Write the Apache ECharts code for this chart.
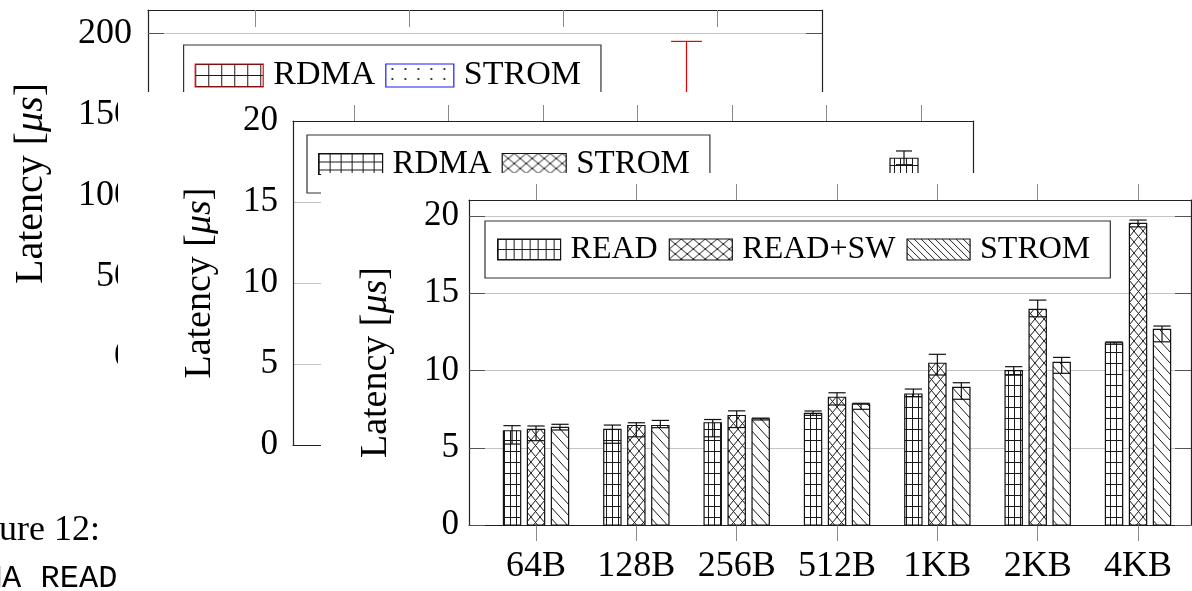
<!DOCTYPE html>
<html><head><meta charset="utf-8">
<script src="https://cdn.jsdelivr.net/npm/echarts@6/dist/echarts.min.js"></script>
<style>html,body{margin:0;padding:0;background:#fff}#c{width:1192px;height:591px}</style>
</head><body><div id="c"></div>
<script>
// ---------------- data ----------------
const sizes = ['64B', '128B', '256B', '512B', '1KB', '2KB', '4KB'];
// front chart: bar value, lower whisker, upper whisker
const readVal   = [6.10, 6.19, 6.62, 7.23, 8.48, 9.99, 11.80];
const readLow   = [5.24, 5.29, 5.71, 7.10, 8.30, 9.70, 11.70];
const readHigh  = [6.43, 6.47, 6.83, 7.38, 8.80, 10.25, 11.85];
const swVal     = [6.19, 6.44, 7.09, 8.27, 10.47, 13.96, 19.53];
const swLow     = [5.46, 5.71, 6.31, 7.77, 9.71, 13.48, 19.30];
const swHigh    = [6.41, 6.62, 7.39, 8.56, 11.05, 14.56, 19.74];
const stromVal  = [6.32, 6.44, 6.88, 7.83, 8.91, 10.53, 12.67];
const stromLow  = [6.15, 6.30, 6.80, 7.49, 8.14, 9.82, 11.86];
const stromHigh = [6.52, 6.77, 6.92, 7.88, 9.21, 10.85, 12.88];
const frontTicks = [0, 5, 10, 15, 20];
// middle chart (mostly hidden behind the front chart)
const midRdmaVal  = [null, null, null, null, null, null, 17.7];
const midRdmaLow  = [null, null, null, null, null, null, 17.3];
const midRdmaHigh = [null, null, null, null, null, null, 18.15];
const midStromVal = [null, null, null, null, null, null, null];
const midTicks = [0, 5, 10, 15, 20];
// back chart (only one whisker visible)
const backCats = [0, 1, 2, 3];
const backRdmaVal  = [null, null, null, 155];
const backRdmaLow  = [null, null, null, 120];
const backRdmaHigh = [null, null, null, 195];
const backStromVal = [null, null, null, null];
const backTicks = [0, 50, 100, 150, 200];

// ---------------- patterns ----------------
function mk(w, h, draw, bg) {
  const c = document.createElement('canvas'); c.width = w; c.height = h;
  const g = c.getContext('2d'); g.fillStyle = bg || '#fff'; g.fillRect(0, 0, w, h);
  g.strokeStyle = '#1a1a1a'; g.fillStyle = '#1a1a1a'; g.lineWidth = 1; draw(g, w, h);
  return { image: c, repeat: 'repeat' };
}
const gridP = (w, h) => mk(w, h, (g) => { g.beginPath(); g.moveTo(0.5, 0); g.lineTo(0.5, h); g.moveTo(0, 0.5); g.lineTo(w, 0.5); g.stroke(); });
const crossP = (w, h) => mk(w, h, (g) => { g.beginPath(); g.moveTo(0, 0); g.lineTo(w, h); g.moveTo(w, 0); g.lineTo(0, h); g.stroke(); });
const nwP = (w, h) => mk(w, h, (g) => { g.beginPath(); g.moveTo(-w, -h); g.lineTo(2 * w, 2 * h); g.moveTo(-w, 0); g.lineTo(w, 2 * h); g.moveTo(0, -h); g.lineTo(2 * w, h); g.stroke(); });
const dotP = (w, h) => mk(w, h, (g) => { g.beginPath(); g.arc(w / 2, h / 2, 1.1, 0, Math.PI * 2); g.fill(); });

const patGrid = gridP(6, 11), patCross = crossP(9, 11), patNW = nwP(10, 11), patDot = dotP(13, 10);
const legGrid = gridP(8, 10), legCross = crossP(12, 10), legNW = nwP(7, 7);
const legGrid2 = gridP(11, 8), legCross2 = crossP(12, 10);
const legGrid1 = gridP(13, 11), legDot1 = dotP(13, 10);

const SERIF = '"Liberation Serif", "Times New Roman", serif';

// ---------------- helpers ----------------
function bars(name, ax, vals, off, w, fill, stroke, z) {
  return {
    type: 'custom', name, xAxisIndex: ax, yAxisIndex: ax, z, clip: false,
    itemStyle: { color: fill, borderColor: stroke },
    encode: { x: 0, y: 1 },
    data: vals.map((v, i) => [i, v]).filter(d => d[1] != null),
    renderItem(params, api) {
      const i = api.value(0), v = api.value(1);
      const t = api.coord([i + off, v]), b = api.coord([i + off, 0]);
      const pw = api.size([w, 0])[0];
      return { type: 'rect', shape: { x: t[0] - pw / 2, y: t[1], width: pw, height: b[1] - t[1] },
        style: { fill, stroke, lineWidth: 1.2 } };
    }
  };
}
function whiskers(name, ax, low, high, off, capW, color, z) {
  return {
    type: 'custom', name, xAxisIndex: ax, yAxisIndex: ax, z, clip: false,
    encode: { x: 0, y: [1, 2] },
    data: low.map((l, i) => [i, l, high[i]]).filter(d => d[1] != null),
    renderItem(params, api) {
      const i = api.value(0);
      const pl = api.coord([i + off, api.value(1)]), ph = api.coord([i + off, api.value(2)]);
      const hw = api.size([capW, 0])[0] / 2, x = pl[0];
      const st = { stroke: color, lineWidth: 1.2 };
      return { type: 'group', children: [
        { type: 'line', shape: { x1: x, y1: pl[1], x2: x, y2: ph[1] }, style: st },
        { type: 'line', shape: { x1: x - hw, y1: ph[1], x2: x + hw, y2: ph[1] }, style: st },
        { type: 'line', shape: { x1: x - hw, y1: pl[1], x2: x + hw, y2: pl[1] }, style: st }
      ] };
    }
  };
}
const fmt = (ticks) => (v) => ticks.indexOf(v) >= 0 ? String(v) : '';
const frameLine = { show: true, onZero: false, lineStyle: { color: '#222', width: 1.2 } };
const tickStyle = { color: '#8a8a8a', width: 1 };
const gridLine = { show: true, lineStyle: { color: '#c4c4c4', width: 1 } };

function xPair(grid, min, max, n, z, bottomOpt, topOpt) {
  const cv = Array.from({ length: n }, (_, i) => i);
  return [
    Object.assign({ type: 'value', gridIndex: grid, position: 'bottom', min, max, z,
      axisLine: frameLine, splitLine: { show: false } }, bottomOpt(cv)),
    Object.assign({ type: 'value', gridIndex: grid, position: 'top', min, max, z,
      axisLine: frameLine, splitLine: { show: false }, axisLabel: { show: false } }, topOpt(cv))
  ];
}
function yPair(grid, max, ticks, z, leftTick, rightTick, nameGap, nameSize, labelSize, labelMargin) {
  return [
    { type: 'value', gridIndex: grid, position: 'left', min: 0, max, interval: ticks[1], z,
      axisLine: frameLine, splitLine: gridLine, axisTick: leftTick,
      axisLabel: { formatter: fmt(ticks), fontFamily: SERIF, fontSize: labelSize, color: '#000', margin: labelMargin },
      name: 'Latency [{i|μs}]', nameLocation: 'middle', nameRotate: 90, nameGap,
      nameTextStyle: { fontFamily: SERIF, fontSize: nameSize, color: '#000',
        rich: { i: { fontFamily: SERIF, fontSize: nameSize, fontStyle: 'italic', color: '#000' } } } },
    { type: 'value', gridIndex: grid, position: 'right', min: 0, max, interval: ticks[1], z,
      axisLine: frameLine, splitLine: { show: false }, axisLabel: { show: false },
      axisTick: rightTick }
  ];
}

// ---------------- layout ----------------
const grids = [
  { left: 148, top: 10, width: 674, height: 347 },    // back
  { left: 293, top: 121, width: 680, height: 324 },   // middle
  { left: 469, top: 200, width: 722, height: 325 }    // front
];

const xLabel = (cv) => ({ customValues: cv, formatter: (v) => sizes[v] || '', fontFamily: SERIF, fontSize: 36, color: '#000', margin: 24 });
const xAxes = [].concat(
  xPair(0, -0.695, 3.682, backCats.length, 1,
    (cv) => ({ axisTick: { show: false }, axisLabel: { show: false } }),
    (cv) => ({ axisTick: { show: true, inside: true, length: 17, customValues: cv, lineStyle: tickStyle } })),
  xPair(1, -0.6455, 6.55, sizes.length, 11,
    (cv) => ({ axisTick: { show: true, length: 16, customValues: cv, lineStyle: tickStyle }, axisLabel: xLabel(cv) }),
    (cv) => ({ axisTick: { show: true, length: 16, customValues: cv, lineStyle: tickStyle } })),
  xPair(2, -0.668, 6.528, sizes.length, 21,
    (cv) => ({ axisTick: { show: true, length: 16, customValues: cv, lineStyle: tickStyle }, axisLabel: xLabel(cv) }),
    (cv) => ({ axisTick: { show: true, length: 16, customValues: cv, lineStyle: tickStyle } }))
);
const inTick = (ticks, c) => ({ show: true, inside: true, length: 16, customValues: ticks, lineStyle: { color: c } });
const yAxes = [].concat(
  yPair(0, 214.4, backTicks, 1, inTick(backTicks, '#555'), inTick(backTicks, '#555'), 97, 40, 36, 16),
  yPair(1, 20, midTicks, 11, { show: false }, { show: false }, 74, 38, 35, 15),
  yPair(2, 21.04, frontTicks, 21, inTick(frontTicks, '#555'), inTick(frontTicks, '#555'), 74, 38, 35, 10)
);

const series = [
  // back chart
  bars('RDMA', 0, backRdmaVal, -0.198, 0.25, patGrid, '#e00', 2),
  bars('STROM', 0, backStromVal, 0.198, 0.25, patDot, '#1a1aff', 2),
  whiskers('RDMA err (back)', 0, backRdmaLow, backRdmaHigh, -0.198, 0.2, '#e00', 3),
  // middle chart
  bars('RDMA', 2, midRdmaVal, -0.18, 0.296, patGrid, '#111', 12),
  bars('STROM', 2, midStromVal, 0.18, 0.296, patCross, '#111', 12),
  whiskers('RDMA err (middle)', 2, midRdmaLow, midRdmaHigh, -0.18, 0.17, '#111', 13),
  // front chart
  bars('READ', 4, readVal, -0.239, 0.172, patGrid, '#111', 22),
  bars('READ+SW', 4, swVal, 0, 0.172, patCross, '#111', 22),
  bars('STROM', 4, stromVal, 0.239, 0.172, patNW, '#111', 22),
  whiskers('READ err', 4, readLow, readHigh, -0.239, 0.172, '#111', 23),
  whiskers('READ+SW err', 4, swLow, swHigh, 0, 0.172, '#111', 23),
  whiskers('STROM err', 4, stromLow, stromHigh, 0.239, 0.172, '#111', 23)
];

function legend(z, left, top, iw, ih, fs, gap, pad, items) {
  return {
    z, left, top, orient: 'horizontal', itemWidth: iw, itemHeight: ih, itemGap: gap,
    padding: pad, borderColor: '#333', borderWidth: 1.2, backgroundColor: '#fff', borderRadius: 0,
    icon: 'rect', selectedMode: false, inactiveColor: '#000',
    textStyle: { fontFamily: SERIF, fontSize: fs, color: '#000', lineHeight: fs + 3, padding: [0, 0, 0, 5] },
    data: items.map(it => ({ name: it[0], icon: 'rect', itemStyle: { color: it[1], borderColor: it[2], borderWidth: 1.2 } }))
  };
}

const option = {
  animation: false,
  backgroundColor: '#fff',
  grid: grids.map(g => Object.assign({ show: false, containLabel: false }, g)),
  xAxis: xAxes,
  yAxis: yAxes,
  legend: [
    legend(3, 183.6, 45, 68, 23, 34, 10, [12, 20, 12, 11], [['RDMA', legGrid1, '#e00'], ['STROM', legDot1, '#1a1aff']]),
    legend(13, 307, 135, 64, 21, 33, 10, [11, 20, 11, 11], [['RDMA', legGrid2, '#111'], ['STROM', legCross2, '#111']]),
    legend(23, 485, 221, 63, 21, 32, 11, [11, 20, 11, 12], [['READ', legGrid, '#111'], ['READ+SW', legCross, '#111'], ['STROM', legNW, '#111']])
  ],
  graphic: { elements: [
    { type: 'text', x: 100, y: 531, z: 5, style: { text: 'Figure 12:', font: '36px "Liberation Serif"', fill: '#000', align: 'right', verticalAlign: 'middle' } },
    { type: 'text', x: -55.5, y: 579, z: 5, style: { text: 'RDMA READ', font: '32px "Liberation Mono"', fill: '#000', align: 'left', verticalAlign: 'middle' } },
    { type: 'rect', z: 10, shape: { x: 118, y: 92, width: 1100, height: 520 }, style: { fill: '#fff' } },
    { type: 'rect', z: 20, shape: { x: 321, y: 173, width: 900, height: 450 }, style: { fill: '#fff' } }
  ] },
  series
};
const chart = echarts.init(document.getElementById('c'), null, { renderer: 'canvas' });
chart.setOption(option);
</script></body></html>
